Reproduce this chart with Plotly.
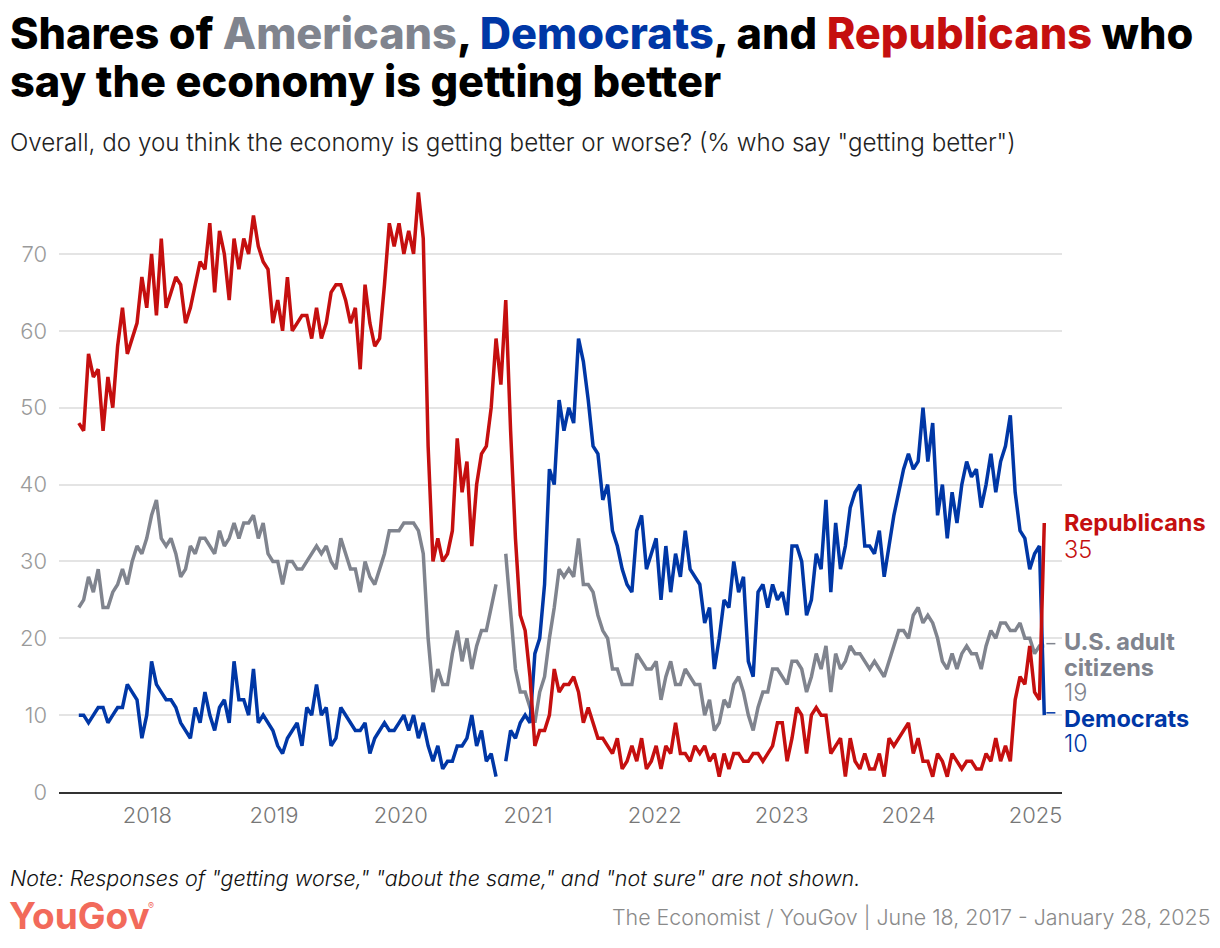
import pandas as pd
import plotly.graph_objects as go

# ---- data (bi-weekly readings, June 18 2017 - Jan 26 2025) ----
start_date = "2017-06-18"
end_date = "2025-01-26"
n_points = 200

republicans = [
    48, 47, 57, 54, 55, 47, 54, 50, 58, 63, 57, 59, 61, 67, 63, 70, 62, 72, 63, 65, 67, 66, 61, 63, 66, 69, 68, 74, 65, 73, 70, 64, 72,
    68, 72, 70, 75, 71, 69, 68, 61, 64, 60, 67, 60, 61, 62, 62, 59, 63, 59, 61, 65, 66, 66, 64, 61, 63, 55, 66, 61, 58, 59, 66, 74, 71,
    74, 70, 73, 70, 78, 72, 45, 30, 33, 30, 31, 34, 46, 39, 43, 32, 40, 44, 45, 50, 59, 53, 64, 47, 33, 23, 21, 15, 6, 8, 8, 10, 16, 13,
    14, 14, 15, 13, 9, 11, 9, 7, 7, 6, 5, 7, 3, 4, 6, 4, 7, 3, 4, 6, 3, 6, 5, 9, 5, 5, 4, 6, 5, 6, 4, 5, 2, 5,
    3, 5, 5, 4, 4, 5, 5, 4, 5, 6, 9, 9, 4, 7, 11, 10, 5, 10, 11, 10, 10, 5, 6, 7, 2, 7, 4, 3, 5, 3, 3, 5, 2,
    7, 6, 7, 8, 9, 5, 7, 4, 4, 2, 5, 4, 2, 5, 4, 3, 4, 4, 3, 3, 5, 4, 7, 4, 6, 4, 12, 15, 14, 19, 13, 12, 35,
]
americans = [
    24, 25, 28, 26, 29, 24, 24, 26, 27, 29, 27, 30, 32, 31, 33, 36, 38, 33, 32, 33, 31, 28, 29, 32, 31, 33, 33, 32, 31, 34, 32, 33, 35,
    33, 35, 35, 36, 33, 35, 31, 30, 30, 27, 30, 30, 29, 29, 30, 31, 32, 31, 32, 30, 29, 33, 31, 29, 29, 26, 30, 28, 27, 29, 31, 34, 34,
    34, 35, 35, 35, 34, 31, 20, 13, 16, 14, 14, 18, 21, 17, 20, 16, 19, 21, 21, 24, 27, None, 31, 23, 16, 13, 13, 11, 9, 13, 15, 20, 24, 29,
    28, 29, 28, 33, 27, 27, 26, 23, 21, 20, 16, 16, 14, 14, 14, 18, 17, 16, 16, 17, 12, 15, 17, 14, 14, 16, 15, 14, 14, 10, 12, 8, 9, 12,
    11, 14, 15, 13, 10, 8, 11, 13, 13, 16, 16, 15, 14, 17, 17, 16, 13, 15, 18, 16, 19, 13, 18, 16, 17, 19, 18, 18, 17, 16, 17, 16, 15,
    17, 19, 21, 21, 20, 23, 24, 22, 23, 22, 20, 17, 16, 18, 16, 18, 19, 18, 18, 16, 19, 21, 20, 22, 22, 21, 21, 22, 20, 20, 18, 19, 19,
]
democrats = [
    10, 10, 9, 10, 11, 11, 9, 10, 11, 11, 14, 13, 12, 7, 10, 17, 14, 13, 12, 12, 11, 9, 8, 7, 11, 9, 13, 10, 8, 11, 12, 9, 17,
    12, 12, 10, 16, 9, 10, 9, 8, 6, 5, 7, 8, 9, 6, 11, 10, 14, 10, 11, 6, 7, 11, 10, 9, 8, 8, 9, 5, 7, 8, 9, 8, 8,
    9, 10, 8, 10, 7, 9, 6, 4, 6, 3, 4, 4, 6, 6, 7, 10, 6, 8, 4, 5, 2, None, 4, 8, 7, 9, 10, 9, 18, 20, 27, 42, 40, 51,
    47, 50, 48, 59, 56, 51, 45, 44, 38, 40, 34, 32, 29, 27, 26, 34, 36, 29, 31, 33, 25, 32, 26, 31, 28, 34, 29, 28, 27, 22, 24, 16, 20, 25,
    24, 30, 26, 28, 17, 15, 26, 27, 24, 27, 25, 26, 23, 32, 32, 30, 23, 25, 31, 29, 38, 26, 35, 29, 32, 37, 39, 40, 32, 32, 31, 34, 28,
    32, 36, 39, 42, 44, 42, 43, 50, 43, 48, 36, 40, 33, 39, 35, 40, 43, 41, 42, 37, 40, 44, 39, 43, 45, 49, 39, 34, 33, 29, 31, 32, 10,
]
year_ticks = ["2018", "2019", "2020", "2021", "2022", "2023", "2024", "2025"]
y_ticks = [0, 10, 20, 30, 40, 50, 60, 70]

dates = pd.date_range(start_date, end_date, periods=n_points)

RED = "#c50f0f"
BLUE = "#0037a6"
GRAY = "#80848e"

# page geometry (the page body adds an 8px offset around the figure)
OFF = 8
W, H = 1220 - OFF, 948 - OFF
PL, PR, PT, PB = 53, 1062, 170, 792          # plot box in page pixels
L, R, T, B = PL - OFF, W - (PR - OFF), PT - OFF, H - (PB - OFF)


def px(xp):
    return (xp - PL) / (PR - PL)


def py(yp):
    return (PB - yp) / (PB - PT)


fig = go.Figure()
for name, vals, col in [("U.S. adult citizens", americans, GRAY),
                        ("Democrats", democrats, BLUE),
                        ("Republicans", republicans, RED)]:
    fig.add_trace(go.Scatter(x=dates, y=vals, mode="lines", name=name,
                             line=dict(color=col, width=3.5), connectgaps=False,
                             hoverinfo="skip"))

# dashed connectors to end labels
for val, col, x1 in [(americans[-1], GRAY, "2025-03-12"), (democrats[-1], BLUE, "2025-03-02")]:
    fig.add_shape(type="line", xref="x", yref="y",
                  x0="2025-02-01", x1=x1, y0=val + 0.3, y1=val + 0.3,
                  line=dict(color=col, width=1.5, dash="dash"))

fig.update_layout(
    width=W, height=H,
    margin=dict(l=L, r=R, t=T, b=B),
    paper_bgcolor="white", plot_bgcolor="white",
    showlegend=False,
    font=dict(family="Inter", color="#222"),
    xaxis=dict(type="date", range=["2017-04-22", "2025-03-18"],
               tickvals=[f"{y}-01-01" for y in year_ticks], ticktext=year_ticks,
               showgrid=False, zeroline=False, showline=True, linecolor="#333",
               linewidth=2, ticks="", tickfont=dict(size=22, color="#777", weight=300),
               ticklabelstandoff=3),
    yaxis=dict(range=[0, (PB - PT) / 7.686], tickvals=y_ticks, showgrid=True,
               gridcolor="#e4e4e4", gridwidth=1.5, zeroline=False, ticks="",
               tickfont=dict(size=22, color="#9a9a9a", weight=300), ticklabelstandoff=11),
)

ann = []
title1 = ("Shares of <span style='color:%s'>Americans</span>, <span style='color:%s'>Democrats</span>, "
          "and <span style='color:%s'>Republicans</span> who") % (GRAY, BLUE, RED)
ann.append(dict(text=title1, x=px(2), y=py(33), xanchor="left", yanchor="middle",
                font=dict(size=43.3, color="#000", family="Inter", weight=800)))
ann.append(dict(text="say the economy is getting better", x=px(2), y=py(81), xanchor="left",
                yanchor="middle", font=dict(size=43.3, color="#000", family="Inter", weight=800)))
ann.append(dict(text='Overall, do you think the economy is getting better or worse? (% who say "getting better")',
                x=px(2), y=py(142), xanchor="left", yanchor="middle",
                font=dict(size=24.2, color="#222", family="Inter", weight=300)))
# end labels, one line each
end_lines = [
    ("<b>Republicans</b>", 522, RED, 700), ("35", 549, RED, 300),
    ("<b>U.S. adult</b>", 641, GRAY, 700), ("<b>citizens</b>", 667, GRAY, 700), ("19", 692, GRAY, 300),
    ("<b>Democrats</b>", 718, BLUE, 700), ("10", 743, BLUE, 300),
]
for txt, yy, col, wt in end_lines:
    ann.append(dict(text=txt, x=px(1062), y=py(yy), xanchor="left", yanchor="middle",
                    font=dict(size=23.5, color=col, family="Inter", weight=wt)))
# footer
ann.append(dict(text='<i>Note: Responses of "getting worse," "about the same," and "not sure" are not shown.</i>',
                x=px(2), y=py(878), xanchor="left", yanchor="middle",
                font=dict(size=21.5, color="#111", family="Inter", weight=300)))
ann.append(dict(text="YouGov", x=px(1), y=py(915), xanchor="left", yanchor="middle",
                font=dict(size=37, color="#f26a5b", family="Inter", weight=700)))
ann.append(dict(text="®", x=px(141), y=py(905), xanchor="left", yanchor="middle",
                font=dict(size=9, color="#f26a5b", family="Inter")))
ann.append(dict(text="The Economist / YouGov | June 18, 2017 - January 28, 2025", x=px(1213), y=py(917),
                xanchor="right", yanchor="middle",
                font=dict(size=21.4, color="#8a8a8a", family="Inter", weight=300)))
for a in ann:
    a.update(xref="paper", yref="paper", showarrow=False)
fig.update_layout(annotations=ann)

fig.write_html("out.html", config={"displayModeBar": False})
